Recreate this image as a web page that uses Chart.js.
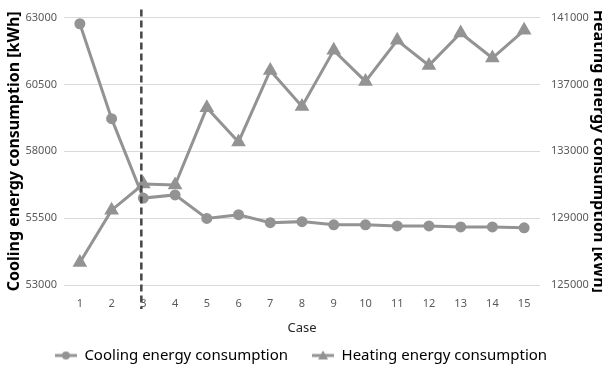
<!DOCTYPE html>
<html lang="en">
<head>
    <meta charset="UTF-8">
    <title>Energy consumption by case</title>
    <script src="https://cdn.jsdelivr.net/npm/chart.js"></script>
    <style>
        body { margin: 0; background: #fff; }
        #wrap { width: 602px; height: 368px; }
    </style>
</head>
<body>
    <div id="wrap"><canvas id="myChart"></canvas></div>
    <script>
        // data
        const cases = ['1','2','3','4','5','6','7','8','9','10','11','12','13','14','15'];
        const cooling = [62770, 59220, 56250, 56370, 55490, 55630, 55330, 55370, 55250, 55250, 55210, 55210, 55170, 55170, 55140];
        const heating = [126350, 129480, 131040, 130980, 135600, 133560, 137840, 135680, 139040, 137180, 139640, 138140, 140080, 138580, 140240];
        const markerCase = '3';

        const gray = '#939393';
        const tickColor = '#595959';

        // legend symbol: short line with a marker in the middle
        function legendIcon(shape) {
            const c = document.createElement('canvas');
            c.width = 22; c.height = 12;
            const g = c.getContext('2d');
            g.strokeStyle = gray; g.fillStyle = gray; g.lineWidth = 3;
            g.beginPath(); g.moveTo(0, 6); g.lineTo(22, 6); g.stroke();
            g.beginPath();
            if (shape === 'circle') {
                g.arc(11, 6, 4, 0, Math.PI * 2);
            } else {
                g.moveTo(11, 1); g.lineTo(16, 10); g.lineTo(6, 10); g.closePath();
            }
            g.fill();
            return c;
        }

        // dashed vertical marker at case 3
        const dashLine = {
            id: 'dashLine',
            afterDatasetsDraw(chart) {
                const x = chart.scales.x.getPixelForValue(cases.indexOf(markerCase)) - 2;
                const area = chart.chartArea;
                const ctx = chart.ctx;
                ctx.save();
                ctx.strokeStyle = '#454545';
                ctx.lineWidth = 2.5;
                ctx.setLineDash([7, 4]);
                ctx.beginPath();
                ctx.moveTo(x, area.top - 8);
                ctx.lineTo(x, area.bottom + 24);
                ctx.stroke();
                ctx.restore();
            }
        };

        const plain = v => String(v);

        const ctx = document.getElementById('myChart').getContext('2d');
        const myChart = new Chart(ctx, {
            type: 'line',
            data: {
                labels: cases,
                datasets: [{
                    label: 'Cooling energy consumption',
                    data: cooling,
                    yAxisID: 'y',
                    borderColor: gray,
                    backgroundColor: gray,
                    borderWidth: 3,
                    pointStyle: 'circle',
                    pointRadius: 4,
                    tension: 0
                }, {
                    label: 'Heating energy consumption',
                    data: heating,
                    yAxisID: 'y1',
                    borderColor: gray,
                    backgroundColor: gray,
                    borderWidth: 3,
                    pointStyle: 'triangle',
                    pointRadius: 5.5,
                    tension: 0
                }]
            },
            options: {
                responsive: true,
                maintainAspectRatio: false,
                animation: false,
                layout: { padding: { top: 17, left: 0, right: 0, bottom: -5 } },
                plugins: {
                    tooltip: { enabled: false },
                    legend: {
                        position: 'bottom',
                        labels: {
                            usePointStyle: true,
                            pointStyleWidth: 22,
                            padding: 24,
                            color: '#000',
                            font: { family: 'Noto Sans', size: 15 },
                            generateLabels(chart) {
                                return chart.data.datasets.map((ds, i) => ({
                                    text: ds.label,
                                    datasetIndex: i,
                                    pointStyle: legendIcon(i === 0 ? 'circle' : 'triangle'),
                                    fontColor: '#000',
                                    lineWidth: 0
                                }));
                            }
                        }
                    }
                },
                scales: {
                    x: {
                        offset: true,
                        grid: { display: false, drawTicks: false },
                        border: { display: false },
                        ticks: { color: tickColor, padding: 12, font: { family: 'Noto Sans', size: 11 } },
                        title: {
                            display: true,
                            text: 'Case',
                            color: '#262626',
                            font: { family: 'Noto Sans', size: 13 },
                            padding: { top: 4, bottom: -12 }
                        },
                        afterFit(s) { s.height = 39; }
                    },
                    y: {
                        position: 'left',
                        min: 53000,
                        max: 63000,
                        grid: { color: '#d9d9d9', lineWidth: 1, drawTicks: false },
                        border: { display: false },
                        ticks: { stepSize: 2500, callback: plain, color: tickColor, padding: 7, font: { family: 'Noto Sans', size: 11 } },
                        title: {
                            display: true,
                            text: 'Cooling energy consumption [kWh]',
                            color: '#000',
                            font: { family: 'Noto Sans', size: 16, weight: 'bold' },
                            padding: { top: 5, bottom: 0 }
                        },
                        afterFit(s) { s.width = 64; }
                    },
                    y1: {
                        position: 'right',
                        min: 125000,
                        max: 141000,
                        grid: { display: false, drawTicks: false },
                        border: { display: false },
                        ticks: { stepSize: 4000, callback: plain, color: tickColor, padding: 11, font: { family: 'Noto Sans', size: 11 } },
                        title: {
                            display: true,
                            text: 'Heating energy consumption [kWh]',
                            color: '#000',
                            font: { family: 'Noto Sans', size: 16, weight: 'bold' },
                            padding: { top: -6, bottom: 0 }
                        },
                        afterFit(s) { s.width = 62; }
                    }
                }
            },
            plugins: [dashLine]
        });
    </script>
</body>
</html>
